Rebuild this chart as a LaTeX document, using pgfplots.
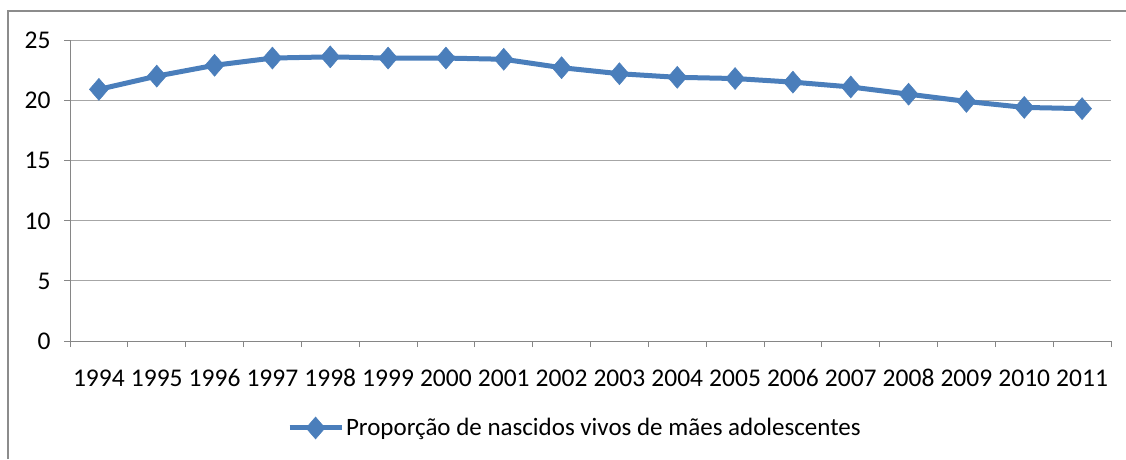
\documentclass[border=0pt]{standalone}
\usepackage{pgfplots}
\pgfplotsset{compat=1.18}
\usepackage{fontspec}
\setmainfont{Carlito}
\definecolor{seriesblue}{HTML}{4A7EBB}
\definecolor{gridgray}{HTML}{A6A6A6}
\definecolor{axisgray}{HTML}{868686}
\definecolor{framegray}{HTML}{8C8C8C}
\begin{document}
\begin{tikzpicture}[x=1pt,y=1pt]
\path[use as bounding box] (0,0) rectangle (1126,459);
\draw[framegray, line width=2pt] (8,0) -- (8,448) -- (1126,448);
\begin{axis}[
  at={(70pt,118pt)}, anchor=south west,
  scale only axis, width=1041pt, height=301pt,
  xmin=-0.5, xmax=17.5, ymin=0, ymax=25,
  xtick={0,...,17},
  xticklabels={1994,1995,1996,1997,1998,1999,2000,2001,2002,2003,2004,2005,2006,2007,2008,2009,2010,2011},
  minor xtick={-0.5,0.5,...,17.5},
  ytick={0,5,...,25},
  major x tick style={draw=none},
  major tick length=6pt, minor tick length=6pt,
  tick align=outside,
  tick style={axisgray, line width=0.8pt},
  axis x line*=bottom, axis y line*=left,
  axis line style={axisgray, line width=0.8pt, -},
  ymajorgrids, grid style={gridgray, line width=0.8pt},
  tick label style={font=\fontsize{25.5}{28}\selectfont, text=black},
  xticklabel style={anchor=base, yshift=-39pt},
  yticklabel style={anchor=base east, xshift=-10pt, yshift=-8.5pt},
  /pgf/number format/assume math mode=true,
  legend style={at={(0.485,-0.289)}, anchor=center, draw=none, fill=none,
    font=\fontsize{25}{28}\selectfont, text=black, legend cell align=left},
  legend image code/.code={
    \draw[#1, line width=5pt] (0pt,0pt) -- (52pt,0pt);
    \draw[#1, mark repeat=1] plot coordinates {(26pt,0pt)};
  },
]
\addplot[color=seriesblue, line width=5pt, mark=diamond*, mark size=11pt,
  mark options={xscale=1.15, solid, fill=seriesblue, draw=seriesblue, line width=0.5pt}]
coordinates {
(0,20.9) (1,22.0) (2,22.9) (3,23.5) (4,23.6) (5,23.5) (6,23.5) (7,23.4) (8,22.7)
(9,22.2) (10,21.9) (11,21.8) (12,21.5) (13,21.1) (14,20.5) (15,19.9) (16,19.4) (17,19.3)
};
\addlegendentry{Proporção de nascidos vivos de mães adolescentes}
\end{axis}
\end{tikzpicture}
\end{document}
